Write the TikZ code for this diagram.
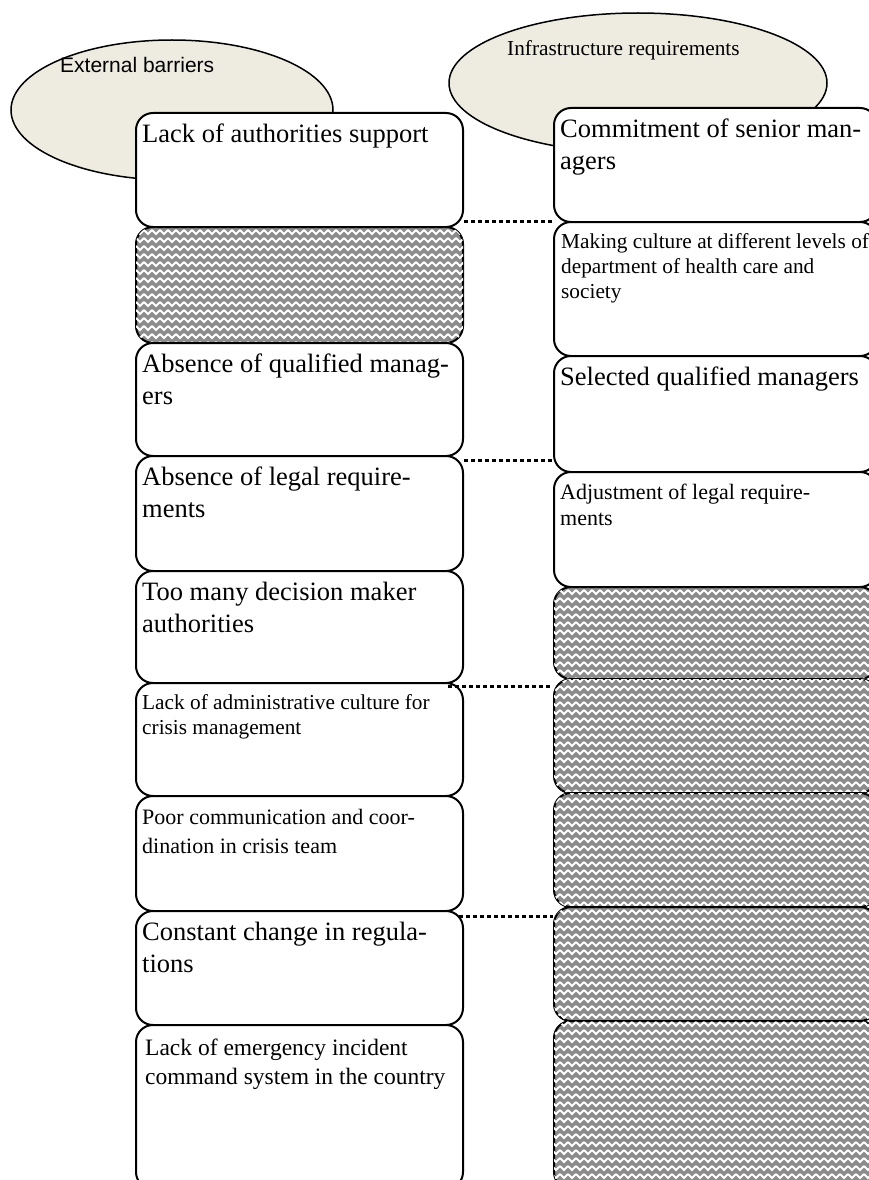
\documentclass[tikz,border=0pt]{standalone}
\usepackage{fontspec}
\setmainfont{Liberation Serif}
\newfontfamily\arialf{Liberation Sans}
\usetikzlibrary{patterns,shapes.geometric}
\pgfdeclarepatternformonly{weave}{\pgfqpoint{-1pt}{-1pt}}{\pgfqpoint{9pt}{9pt}}{\pgfqpoint{8pt}{8pt}}{
  \pgfsetlinewidth{1.8pt}
  \pgfpathmoveto{\pgfqpoint{0pt}{6pt}}
  \pgfpathlineto{\pgfqpoint{4pt}{2pt}}
  \pgfpathlineto{\pgfqpoint{8pt}{6pt}}
  \pgfusepath{stroke}
}
\definecolor{beige}{HTML}{EEECE1}
\newcommand\fbig{\fontsize{26.5}{32}\selectfont}
\newcommand\fsml{\fontsize{21.3}{25}\selectfont}
\newcommand\fmid{\fontsize{22}{29}\selectfont}
\newcommand\fadj{\fontsize{22}{25.5}\selectfont}
\newcommand\fmed{\fontsize{23.5}{29}\selectfont}
\begin{document}
\begin{tikzpicture}[x=1pt,y=-1pt,
  box/.style={draw, line width=2pt, rounded corners=17pt, fill=white, anchor=north west, inner sep=0pt},
  lbox/.style={box, minimum width=327pt},
  rbox/.style={box, minimum width=323pt},
  hatch/.style={fill=black!45, postaction={pattern=weave, pattern color=white}},
  oval/.style={ellipse, draw, line width=1.5pt, fill=beige, inner sep=0pt},
  txt/.style={anchor=north west, inner sep=0pt, align=left},
  conn/.style={line width=3pt, dash pattern=on 3.5pt off 3.5pt}]
\useasboundingbox (0,0) rectangle (869,1180);
\clip (0,0) rectangle (869,1180);
\fill[white] (0,0) rectangle (869,1180);
% ellipses
\node[oval, minimum width=322pt, minimum height=140pt] (E1) at (172,110) {};
\node[oval, minimum width=378pt, minimum height=140pt] (E2) at (638,83) {};
\node[anchor=base west, inner sep=0pt, font=\arialf\fontsize{21}{25}\selectfont] (E1t) at (60,73) {External barriers};
\node[anchor=base west, inner sep=0pt, font=\fsml] (E2t) at (507,56) {Infrastructure requirements};
% left column
\node[lbox, minimum height=114pt] (L1) at (135,112) {};
\node[lbox, hatch, minimum height=116pt] (L2) at (135,226) {};
\node[lbox, minimum height=113pt] (L3) at (135,342) {};
\node[lbox, minimum height=115pt] (L4) at (135,455) {};
\node[lbox, minimum height=112pt] (L5) at (135,570) {};
\node[lbox, minimum height=113pt] (L6) at (135,682) {};
\node[lbox, minimum height=115pt] (L7) at (135,795) {};
\node[lbox, minimum height=114pt] (L8) at (135,910) {};
\node[lbox, minimum height=164pt] (L9) at (135,1024) {};
% right column
\node[rbox, minimum height=114pt] (R1) at (553,107) {};
\node[rbox, minimum height=134pt] (R2) at (553,221) {};
\node[rbox, minimum height=116pt] (R3) at (553,355) {};
\node[rbox, minimum height=115pt] (R4) at (553,471) {};
\node[rbox, hatch, minimum height=92pt] (R5) at (553,586) {};
\node[rbox, hatch, minimum height=114pt] (R6) at (553,678) {};
\node[rbox, hatch, minimum height=114pt] (R7) at (553,792) {};
\node[rbox, hatch, minimum height=114pt] (R8) at (553,906) {};
\node[rbox, hatch, minimum height=168pt] (R9) at (553,1020) {};
% texts
\node[txt, font=\fbig] (L1t) at ([shift={(7,12)}]L1.north west) {Lack of authorities support};
\node[txt, font=\fbig] (L3t) at ([shift={(7,12)}]L3.north west) {Absence of qualified manag-\\ers};
\node[txt, font=\fbig] (L4t) at ([shift={(7,12)}]L4.north west) {Absence of legal require-\\ments};
\node[txt, font=\fbig] (L5t) at ([shift={(7,12)}]L5.north west) {Too many decision maker\\authorities};
\node[txt, font=\fsml] (L6t) at ([shift={(7,12)}]L6.north west) {Lack of administrative culture for\\crisis management};
\node[txt, font=\fmid] (L7t) at ([shift={(7,14)}]L7.north west) {Poor communication and coor-\\dination in crisis team};
\node[txt, font=\fbig] (L8t) at ([shift={(7,12)}]L8.north west) {Constant change in regula-\\tions};
\node[txt, font=\fmed] (L9t) at ([shift={(10,15)}]L9.north west) {Lack of emergency incident\\command system in the country};
\node[txt, font=\fbig] (R1t) at ([shift={(7,12)}]R1.north west) {Commitment of senior man-\\agers};
\node[txt, font=\fsml] (R2t) at ([shift={(8,12)}]R2.north west) {Making culture at different levels of\\department of health care and\\society};
\node[txt, font=\fbig] (R3t) at ([shift={(7,12)}]R3.north west) {Selected qualified managers};
\node[txt, font=\fadj] (R4t) at ([shift={(7,13)}]R4.north west) {Adjustment of legal require-\\ments};
% dotted connectors
\draw[conn] (L1.south east |- R2.north west) -- (R2.north west);
\draw[conn] ([yshift=-3]L3.south east) -- ([yshift=-3]L3.south east -| R3.west);
\draw[conn] ([xshift=-16,yshift=-2]L5.south east) -- ([yshift=-2]L5.south east -| R6.west);
\draw[conn] ([xshift=-5,yshift=-4]L7.south east) -- ([yshift=-4]L7.south east -| R8.west);
\end{tikzpicture}
\end{document}
